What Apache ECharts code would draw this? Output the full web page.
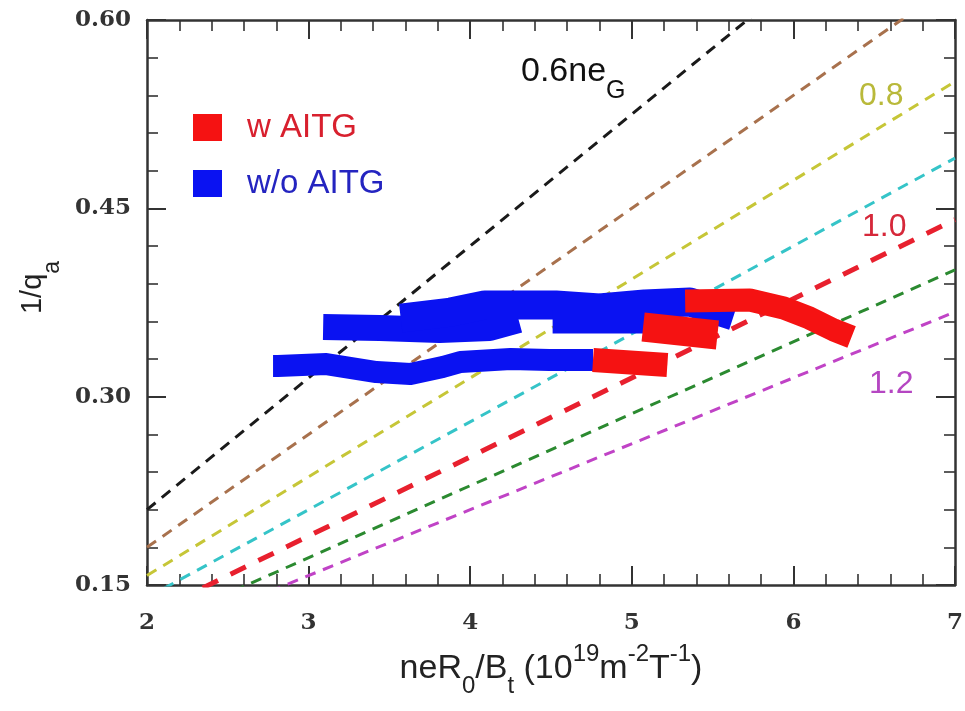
<!DOCTYPE html>
<html><head><meta charset="utf-8">
<script src="https://cdn.jsdelivr.net/npm/echarts@6/dist/echarts.min.js"></script>
<style>html,body{margin:0;padding:0;background:#fff}#c{width:965px;height:711px}</style>
</head><body><div id="c"></div>
<script>
// ---- axes ----
const xMin = 2, xMax = 7, xStep = 1;
const yMin = 0.15, yMax = 0.60, yStep = 0.15;

// ---- Greenwald-fraction reference lines (value at x=2 and x=7) ----
const refLineX = [2, 7];
const refLineNames = ['0.6', '0.7', '0.8', '0.9', '1.0', '1.1', '1.2'];
const refLine06 = [0.210, 0.735];
const refLine07 = [0.180, 0.630];
const refLine08 = [0.1575, 0.551];
const refLine09 = [0.140, 0.490];
const refLine10 = [0.126, 0.441];
const refLine11 = [0.1145, 0.401];
const refLine12 = [0.105, 0.3675];

// ---- w/o AITG (blue) trajectories ----
const blueLowerX = [2.78, 2.81, 3.11, 3.42, 3.63, 3.83, 3.94, 4.25, 4.49, 4.76];
const blueLowerY = [0.3244, 0.3244, 0.3260, 0.3196, 0.3180, 0.3236, 0.3276, 0.3300, 0.3292, 0.3292];
const blueUpperAX = [3.09, 3.44, 3.81, 4.12, 4.30];
const blueUpperAY = [0.3555, 0.3547, 0.3531, 0.3547, 0.3610];
const blueUpperBX = [3.57, 3.88, 4.09, 4.31, 4.53, 4.80, 5.08, 5.36, 5.63];
const blueUpperBY = [0.3626, 0.3674, 0.3730, 0.3730, 0.3730, 0.3706, 0.3738, 0.3754, 0.3642];
const blueUpperCX = [4.51, 5.08];
const blueUpperCY = [0.3595, 0.3595];

// ---- w AITG (red) trajectories ----
const redLowerX = [4.76, 5.22];
const redLowerY = [0.3292, 0.3252];
const redBlockX = [5.07, 5.53];
const redBlockY = [0.3555, 0.3491];
const redArcX = [5.33, 5.73, 5.94, 6.10, 6.25, 6.36];
const redArcY = [0.3762, 0.3770, 0.3706, 0.3626, 0.3531, 0.3475];

const zip = (xs, ys) => xs.map((x, i) => [x, ys[i]]);

const refStyles = [
  {v: refLine06, color: '#1a1a1a', width: 3, dash: [11, 8]},
  {v: refLine07, color: '#a8714d', width: 3, dash: [11, 8]},
  {v: refLine08, color: '#c6c637', width: 3, dash: [11, 8]},
  {v: refLine09, color: '#35c4c8', width: 3, dash: [11, 8]},
  {v: refLine10, color: '#e8202e', width: 5, dash: [17, 14]},
  {v: refLine11, color: '#2b8a30', width: 3, dash: [11, 8]},
  {v: refLine12, color: '#c043c6', width: 3, dash: [11, 8]}
];

const BLUE = '#0a12f2', RED = '#f51212';
const series = [];
refStyles.forEach((s, i) => {
  series.push({
    type: 'line', name: 'f' + refLineNames[i], data: zip(refLineX, s.v),
    symbol: 'none', silent: true, z: 2, clip: true,
    lineStyle: {color: s.color, width: s.width, type: s.dash}
  });
});
function band(name, color, xs, ys, w) {
  series.push({
    type: 'line', name: name, color: color, data: zip(xs, ys), symbol: 'none', z: 3,
    lineStyle: {color: color, width: w, cap: 'butt', join: 'round'}
  });
}
band('w/o AITG', BLUE, blueLowerX, blueLowerY, 22);
band('w/o AITG', BLUE, blueUpperAX, blueUpperAY, 26);
band('w/o AITG', BLUE, blueUpperBX, blueUpperBY, 29);
band('w/o AITG', BLUE, blueUpperCX, blueUpperCY, 23);
band('w AITG', RED, redLowerX, redLowerY, 24);
band('w AITG', RED, redBlockX, redBlockY, 29);
band('w AITG', RED, redArcX, redArcY, 23);

const tickFont = {fontFamily: 'DejaVu Serif', fontWeight: 'bold', fontSize: 23, color: '#333'};
const axisCommon = {
  axisLine: {show: true, onZero: false, lineStyle: {color: '#333', width: 2.5}},
  axisTick: {show: true, inside: true, length: 19, lineStyle: {color: '#333', width: 2}},
  minorTick: {show: true, splitNumber: 5, length: 11, lineStyle: {color: '#333', width: 1.6}},
  splitLine: {show: false}
};
const sans = 'Liberation Sans, Arial, sans-serif';

const chart = echarts.init(document.getElementById('c'), null, {renderer: 'canvas'});
chart.setOption({
  animation: false,
  backgroundColor: '#fff',
  grid: {left: 147, right: 10, top: 20, bottom: 126, containLabel: false, outerBoundsMode: 'none'},
  legend: {
    data: [
      {name: 'w AITG', textStyle: {color: '#d8202e'}},
      {name: 'w/o AITG', textStyle: {color: '#2424c0'}}
    ],
    orient: 'vertical', left: 193, top: 111, padding: 0,
    icon: 'rect', itemWidth: 29, itemHeight: 27, itemGap: 23,
    textStyle: {fontSize: 33, fontFamily: sans, lineHeight: 27, padding: [0, 0, 0, 20]}
  },
  xAxis: [
    Object.assign({
      type: 'value', min: xMin, max: xMax, interval: xStep, position: 'bottom',
      axisLabel: Object.assign({margin: 27}, tickFont),
      name: '{m|neR}{sb|0}{m|/B}{sb|t}{m| (10}{sp|19}{m|m}{sp|-2}{m|T}{sp|-1}{m|)}',
      nameLocation: 'middle', nameGap: 48,
      nameTextStyle: {
        rich: {
          m: {fontSize: 34, fontFamily: sans, color: '#222', lineHeight: 36},
          sb: {fontSize: 24, fontFamily: sans, color: '#222', lineHeight: 26, padding: [34, 0, 0, 0]},
          sp: {fontSize: 24, fontFamily: sans, color: '#222', lineHeight: 26, padding: [0, 0, 30, 0]}
        }
      }
    }, axisCommon),
    Object.assign({
      type: 'value', min: xMin, max: xMax, interval: xStep, position: 'top',
      axisLabel: {show: false}
    }, axisCommon)
  ],
  yAxis: [
    Object.assign({
      type: 'value', min: yMin, max: yMax, interval: yStep, position: 'left',
      axisLabel: Object.assign({margin: 16, formatter: v => v.toFixed(2)}, tickFont),
      name: '{m|1/q}{sb|a}', nameLocation: 'middle', nameGap: 86, nameRotate: 90,
      nameTextStyle: {
        padding: [0, 0, 0, 30],
        rich: {
          m: {fontSize: 29, fontFamily: sans, color: '#222', lineHeight: 32},
          sb: {fontSize: 23, fontFamily: sans, color: '#222', lineHeight: 24, padding: [40, 0, 0, 0]}
        }
      }
    }, axisCommon),
    Object.assign({
      type: 'value', min: yMin, max: yMax, interval: yStep, position: 'right',
      axisLabel: {show: false}
    }, axisCommon)
  ],
  graphic: [
    {type: 'text', x: 521, y: 72, z: 10, style: {
      text: '{m|0.6ne}{s|G}', align: 'left', verticalAlign: 'middle',
      rich: {m: {fontSize: 34, fontFamily: sans, fill: '#111', lineHeight: 36},
             s: {fontSize: 25, fontFamily: sans, fill: '#111', lineHeight: 26, padding: [38, 0, 0, 0]}}}},
    {type: 'text', x: 859, y: 96, z: 10, style: {text: '0.8', font: '32px ' + sans, fill: '#b9b93a', align: 'left', verticalAlign: 'middle'}},
    {type: 'text', x: 862, y: 227, z: 10, style: {text: '1.0', font: '32px ' + sans, fill: '#d6283a', align: 'left', verticalAlign: 'middle'}},
    {type: 'text', x: 869, y: 384, z: 10, style: {text: '1.2', font: '32px ' + sans, fill: '#b546c2', align: 'left', verticalAlign: 'middle'}}
  ],
  series: series
});
</script></body></html>
